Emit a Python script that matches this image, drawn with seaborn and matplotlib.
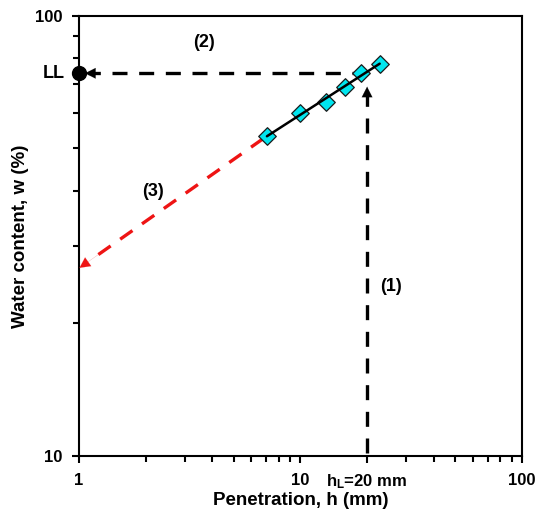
import numpy as np
import pandas as pd
import matplotlib
matplotlib.use("Agg")
import matplotlib.pyplot as plt
from matplotlib.ticker import FixedLocator, NullFormatter
import seaborn as sns

# Fall-cone test readings
penetration_mm = [7.06, 10.0, 13.1, 15.9, 18.7, 22.8]
water_content = [53.3, 60.2, 63.7, 69.0, 74.0, 77.7]

# Liquid limit construction
h_L = 20.0
LL = 74.0
extrap_h = [6.8, 1.0]
extrap_w = [52.6, 26.7]

x_major = [1, 10, 20, 100]
x_major_labels = ["1", "10", r"h$_\mathregular{L}$=20 mm", "100"]
y_major = [10, 100]
y_major_labels = ["10", "100"]

sns.set_style("ticks")
plt.rcParams["font.family"] = ["Liberation Sans", "DejaVu Sans"]
plt.rcParams["font.weight"] = "bold"
plt.rcParams["mathtext.default"] = "regular"
plt.rcParams["mathtext.fontset"] = "custom"
plt.rcParams["mathtext.rm"] = "Liberation Sans:bold"
for key in ("text.color", "axes.labelcolor", "xtick.color", "ytick.color",
            "xtick.labelcolor", "ytick.labelcolor"):
    plt.rcParams[key] = "black"

fig = plt.figure(figsize=(5.38, 5.18), dpi=100)
ax = fig.add_axes([0.1468, 0.1197, 0.8232, 0.85])
ax.set_xscale("log")
ax.set_yscale("log")
ax.set_xlim(1, 100)
ax.set_ylim(10, 100)

df = pd.DataFrame({"h": penetration_mm, "w": water_content})

# least-squares line in log-log space through the readings
coef = np.polyfit(np.log10(df["h"]), np.log10(df["w"]), 1)
fit = pd.DataFrame({"h": [df["h"].min(), df["h"].max()]})
fit["w"] = 10 ** np.polyval(coef, np.log10(fit["h"]))

sns.scatterplot(data=df, x="h", y="w", marker="D", s=80, color="#00E5EE",
                edgecolor="#1a1a1a", linewidth=0.9, ax=ax, zorder=3, legend=False)
sns.lineplot(data=fit, x="h", y="w", color="black", linewidth=1.8, ax=ax,
             zorder=4, legend=False)

dash = dict(linestyle=(0, (4.5, 3.5)), linewidth=2.4)
head = "-|>,head_length=0.75,head_width=0.38"

# (1) vertical from h_L up to the line
ax.plot([h_L, h_L], [10.15, 66.0], color="black", zorder=2, **dash)
ax.annotate("", xy=(h_L, 69.0), xytext=(h_L, 64.0),
            arrowprops=dict(arrowstyle=head, color="black", lw=0.1,
                            shrinkA=0, shrinkB=0))

# (2) horizontal from the line to the w-axis
ax.plot([h_L, 1.1], [LL, LL], color="black", zorder=2, **dash)
ax.annotate("", xy=(1.065, LL), xytext=(1.22, LL),
            arrowprops=dict(arrowstyle=head, color="black", lw=0.1,
                            shrinkA=0, shrinkB=0))
ax.plot([1], [LL], marker="o", markersize=10, color="black",
        clip_on=False, zorder=5)
ax.text(0.86, LL, "LL", ha="right", va="center", fontsize=13, fontweight="bold")


# (3) extrapolation of the line towards h = 1 mm
def on_extrap(h):
    lx0, lx1 = np.log10(extrap_h)
    ly0, ly1 = np.log10(extrap_w)
    t = (np.log10(h) - lx0) / (lx1 - lx0)
    return 10 ** (ly0 + t * (ly1 - ly0))


red = "#ee1414"
ax.plot([extrap_h[0], 1.12], [extrap_w[0], on_extrap(1.12)], color=red,
        zorder=2, **dash)
ax.annotate("", xy=(1.005, on_extrap(1.005)), xytext=(1.26, on_extrap(1.26)),
            arrowprops=dict(arrowstyle=head, color=red, lw=0.1,
                            shrinkA=0, shrinkB=0))

ax.text(3.66, 86.7, "(2)", ha="center", va="center", fontsize=13, fontweight="bold")
ax.text(2.16, 39.8, "(3)", ha="center", va="center", fontsize=13, fontweight="bold")
ax.text(25.7, 24.3, "(1)", ha="center", va="center", fontsize=13, fontweight="bold")

# ticks
ax.xaxis.set_major_locator(FixedLocator(x_major))
ax.set_xticklabels(x_major_labels)
minor_x = [m * d for d in (1, 10) for m in range(2, 10) if m * d not in x_major]
ax.xaxis.set_minor_locator(FixedLocator(minor_x))
ax.xaxis.set_minor_formatter(NullFormatter())
ax.yaxis.set_major_locator(FixedLocator(y_major))
ax.set_yticklabels(y_major_labels)
ax.yaxis.set_minor_locator(FixedLocator([m * 10 for m in range(2, 10)]))
ax.yaxis.set_minor_formatter(NullFormatter())

ax.tick_params(which="both", direction="out", width=1.5, labelsize=12,
               color="black", labelcolor="black", top=False, right=False)
ax.tick_params(which="major", length=5, pad=7)
ax.tick_params(which="minor", length=4.5)
for lab in ax.get_xticklabels() + ax.get_yticklabels():
    lab.set_fontweight("bold")

for sp in ax.spines.values():
    sp.set_visible(True)
    sp.set_linewidth(1.5)
    sp.set_color("black")

ax.set_xlabel("Penetration, h (mm)", fontsize=13.5, fontweight="bold", color="black")
ax.set_ylabel("Water content, w (%)", fontsize=13.5, fontweight="bold", color="black")
ax.xaxis.set_label_coords(0.5, -0.102)
ax.yaxis.set_label_coords(-0.133, 0.5)
ax.xaxis.label.set_va("center")
ax.yaxis.label.set_va("center")

fig.savefig("out.png", dpi=100)
